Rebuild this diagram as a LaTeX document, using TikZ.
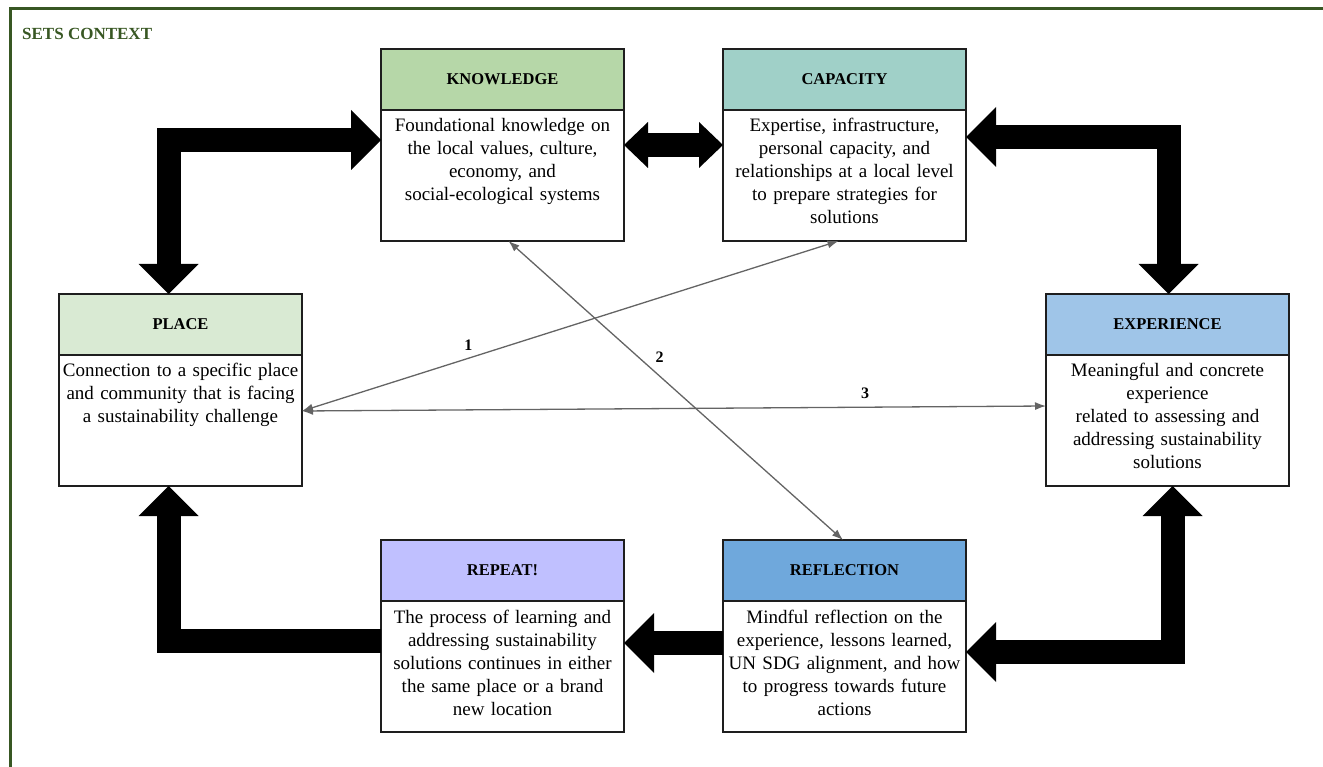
\documentclass[tikz,border=0pt]{standalone}
\usepackage{fontspec}
\setmainfont{Liberation Serif}
\definecolor{setsgreen}{RGB}{56,87,35}
\definecolor{boxline}{RGB}{30,30,30}
\definecolor{knowfill}{RGB}{182,215,168}
\definecolor{capfill}{RGB}{160,208,200}
\definecolor{placefill}{RGB}{217,234,211}
\definecolor{expfill}{RGB}{159,197,232}
\definecolor{repfill}{RGB}{192,192,255}
\definecolor{reffill}{RGB}{111,168,220}
\definecolor{linkgray}{RGB}{100,100,100}
\usepackage{tikz}
\usetikzlibrary{arrows.meta,positioning,calc}

\begin{document}
\begin{tikzpicture}[x=1pt, y=1pt,
    head/.style={draw=boxline, line width=1.3pt, outer sep=0pt,
      minimum width=243pt, minimum height=61pt,
      font=\fontsize{16.5}{19}\selectfont\bfseries},
    body/.style={draw=boxline, line width=1.3pt, outer sep=0pt, fill=white,
      inner xsep=2pt, inner ysep=4pt, text width=239pt, align=center,
      text height=18pt, text depth=105pt, font=\fontsize{19}{23}\selectfont},
    bigarrow/.style={line width=24pt, line join=miter,
      >={Triangle[length=30pt,width=60pt,line width=0pt]}},
    midarrow/.style={line width=24pt,
      >={Triangle[length=24pt,width=46pt,line width=0pt]}},
    link/.style={draw=linkgray, line width=1.3pt, <->,
      >={Latex[length=11pt,width=8pt]}},
    lab/.style={font=\fontsize{16}{19}\selectfont\bfseries, inner sep=2pt}]

    \useasboundingbox (0,0) rectangle (1323,-767);
    % frame of the sets context
    \draw[setsgreen, line width=3.5pt] (10.5,-790) -- (10.5,-8.5) -- (1340,-8.5);
    \node[anchor=west, text=setsgreen, inner sep=0pt,
          font=\fontsize{17}{20}\selectfont\bfseries] (ctx) at (22,-34) {SETS CONTEXT};

    % the six stages
    \node[head, fill=knowfill] (knowh) at (502.5,-79.5) {KNOWLEDGE};
    \node[body, below=0pt of knowh] (know) {Foundational knowledge on\\the local values, culture,\\economy, and\\social-ecological systems};

    \node[head, fill=capfill] (caph) at (844.5,-79.5) {CAPACITY};
    \node[body, below=0pt of caph] (cap) {Expertise, infrastructure,\\personal capacity, and\\relationships at a local level\\to prepare strategies for\\solutions};

    \node[head, fill=placefill] (placeh) at (180.5,-324.5) {PLACE};
    \node[body, below=0pt of placeh] (place) {Connection to a specific place\\and community that is facing\\a sustainability challenge};

    \node[head, fill=expfill] (exph) at (1167.5,-324.5) {EXPERIENCE};
    \node[body, below=0pt of exph] (exp) {Meaningful and concrete\\experience\\related to assessing and\\addressing sustainability\\solutions};

    \node[head, fill=repfill] (reph) at (502.5,-570.5) {REPEAT!};
    \node[body, below=0pt of reph] (rep) {The process of learning and\\addressing sustainability\\solutions continues in either\\the same place or a brand\\new location};

    \node[head, fill=reffill] (refh) at (844.5,-570.5) {REFLECTION};
    \node[body, below=0pt of refh] (ref) {Mindful reflection on the\\experience, lessons learned,\\UN SDG alignment, and how\\to progress towards future\\actions};

    % cycle arrows
    \draw[bigarrow, <->] ([xshift=-12pt]placeh.north) |- ([yshift=-30pt]know.north west);
    \draw[midarrow, <->] ([yshift=-35pt]know.north east) -- ([yshift=-35pt]cap.north west);
    \draw[bigarrow, <->] ([yshift=-27pt]cap.north east) -| ([xshift=1pt]exph.north);
    \draw[bigarrow, <->] ([xshift=5pt]exp.south) |- ([yshift=-51pt]ref.north east);
    \draw[bigarrow, ->] ([yshift=-42pt]ref.north west) -- ([yshift=-42pt]rep.north east);
    \draw[bigarrow, ->] ([yshift=-39.5pt]rep.north west) -| ([xshift=-12pt]place.south);

    % cross links
    \draw[link] ([yshift=-56pt]place.north east) -- node[lab, pos=0.31, above=5pt] {1} ([xshift=-6pt]cap.south);
    \draw[link] ([xshift=6pt]know.south) -- node[lab, pos=0.39, right=14pt] {2} ([xshift=-1.5pt]refh.north);
    \draw[link] ([yshift=-56pt]place.north east) -- node[lab, pos=0.757, above=6pt] {3} ([yshift=-51pt]exp.north west);
\end{tikzpicture}
\end{document}
